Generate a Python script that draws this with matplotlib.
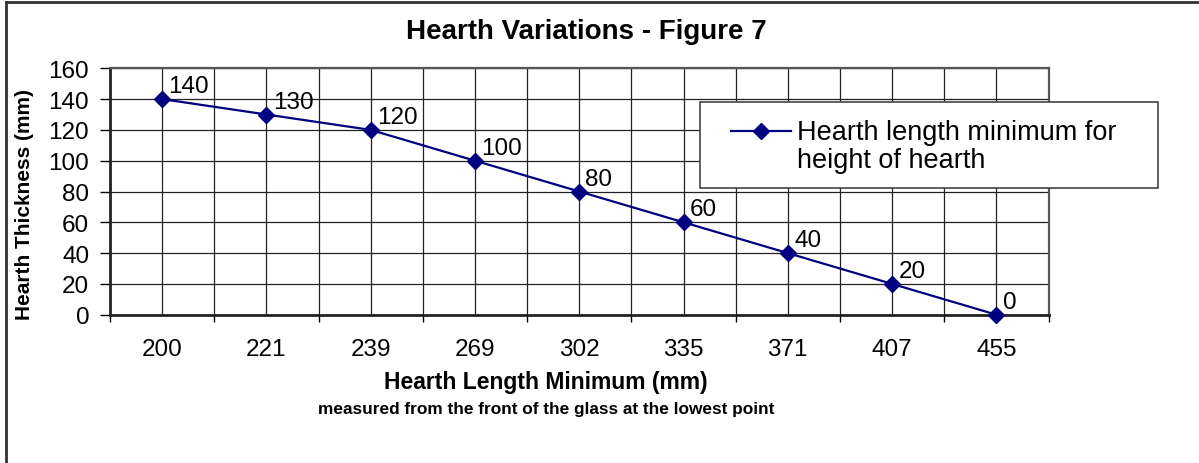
import numpy as np
import matplotlib
matplotlib.use("Agg")
import matplotlib.pyplot as plt
from matplotlib.lines import Line2D
from matplotlib.patches import Rectangle

plt.rcParams['font.family'] = ['Liberation Sans', 'DejaVu Sans']

# data
length_labels = ['200', '221', '239', '269', '302', '335', '371', '407', '455']
thickness = [140, 130, 120, 100, 80, 60, 40, 20, 0]
series_name = 'Hearth length minimum for\nheight of hearth'

W, H = 1199, 464
fig = plt.figure(figsize=(W / 100, H / 100), dpi=100)
ax = fig.add_axes([110 / W, 1 - 315.7 / H, (1048.5 - 110) / W, (315.7 - 69.3) / H])

x = np.arange(len(length_labels))
navy = '#000080'
ax.plot(x, thickness, color=navy, lw=1.6, marker='D', ms=8, zorder=5, clip_on=False)

# value labels up and right of each point
for xi, yi in zip(x, thickness):
    ax.annotate(str(yi), (xi, yi), xytext=(4.5, 5), textcoords='offset points',
                ha='left', va='baseline', fontsize=17.5, zorder=6)

ax.set_xlim(-0.5, len(length_labels) - 0.5)
ax.set_ylim(0, 160)
ax.set_yticks(np.arange(0, 161, 20))
ax.tick_params(axis='y', labelsize=17.5, length=7, width=1, pad=8, direction='out')

# ticks between categories, labels at centres
ax.set_xticks(np.arange(-0.5, len(length_labels)), minor=False)
ax.set_xticklabels([])
ax.set_xticks(x, minor=True)
ax.set_xticklabels(length_labels, minor=True)
ax.tick_params(axis='x', which='major', length=5, width=1, direction='out')
ax.tick_params(axis='x', which='minor', length=0, labelsize=17.5, pad=17)

ax.grid(True, which='both', axis='x', color='#222222', lw=0.9)
ax.grid(True, which='major', axis='y', color='#222222', lw=0.9)
ax.set_axisbelow(True)
for s in ['left', 'bottom']:
    ax.spines[s].set_linewidth(2)
    ax.spines[s].set_color('#222222')
for s in ['top', 'right']:
    ax.spines[s].set_linewidth(1.6)
    ax.spines[s].set_color('#555555')

# titles
fig.text(586 / W, 1 - 32 / H, 'Hearth Variations - Figure 7', ha='center', va='center',
         fontsize=20, fontweight='bold')
fig.text(25 / W, 1 - 205 / H, 'Hearth Thickness (mm)', ha='center', va='center',
         rotation=90, fontsize=15, fontweight='bold')
fig.text(546 / W, 1 - 383 / H, 'Hearth Length Minimum (mm)', ha='center', va='center',
         fontsize=16.5, fontweight='bold')
fig.text(546 / W, 1 - 410 / H, 'measured from the front of the glass at the lowest point',
         ha='center', va='center', fontsize=12.4, fontweight='bold')

# legend drawn by hand: the sample sits on the first text line like in the reference
box = Rectangle((700 / W, 1 - 189 / H), (1158 - 700) / W, (189 - 103) / H,
                transform=fig.transFigure, facecolor='white', edgecolor='#444444',
                lw=1.2, zorder=8)
fig.add_artist(box)
key_y = 1 - 131.5 / H
fig.add_artist(Line2D([731 / W, 791 / W], [key_y, key_y], color=navy, lw=1.6, zorder=9))
fig.add_artist(Line2D([761 / W], [key_y], color=navy, marker='D', ms=8, lw=0, zorder=9))
# baseline of the last line
fig.text(797 / W, 1 - 168 / H, series_name, ha='left', va='baseline',
         fontsize=19.5, linespacing=1.08, zorder=10)

# outer border: only top and left edges show in the reference
fig.add_artist(Line2D([5.5 / W, 5.5 / W], [0, 1 - 3 / H], color='#333333', lw=2))
fig.add_artist(Line2D([5.5 / W, 1], [1 - 3 / H, 1 - 3 / H], color='#333333', lw=2))

fig.savefig('out.png', dpi=100)
